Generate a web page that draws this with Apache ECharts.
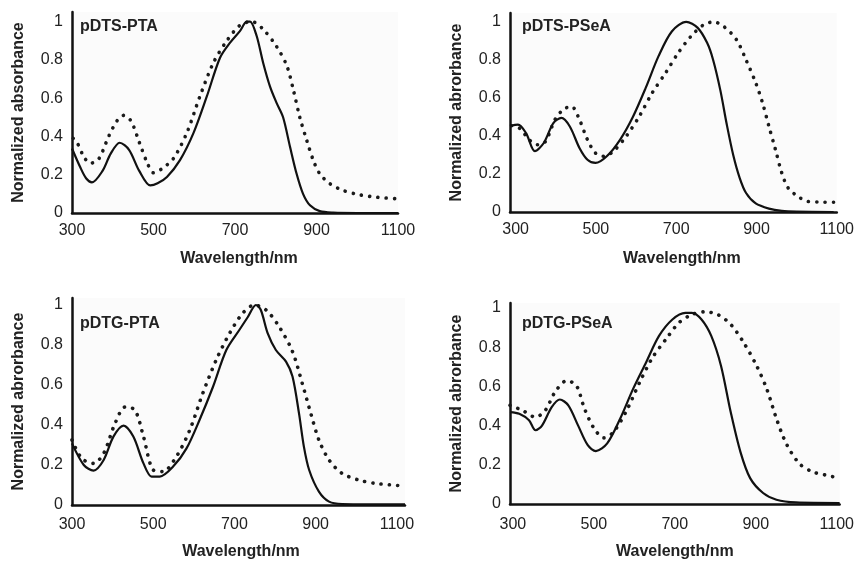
<!DOCTYPE html>
<html><head><meta charset="utf-8">
<script src="https://cdn.jsdelivr.net/npm/echarts@6/dist/echarts.min.js"></script>
<style>html,body{margin:0;padding:0;background:#fff}#c{width:857px;height:561px}</style>
</head><body><div id="c"></div>
<script>
const xTickLabels = [300, 500, 700, 900, 1100];
const yTickLabels = [0, 0.2, 0.4, 0.6, 0.8, 1];
const panelTitles = ['pDTS-PTA', 'pDTS-PSeA', 'pDTG-PTA', 'pDTG-PSeA'];
const yAxisNames = ['Normalized absorbance', 'Normalized abrorbance', 'Normalized abrorbance', 'Normalized abrorbance'];
const xAxisName = 'Wavelength/nm';

// Panel 1: pDTS-PTA
const dtsPtaSolidWl = [300,320,335,349,375,395,417,440,465,492,510,533,565,598,631,663,688,712,729,737,753,769,786,802,818,835,851,867,884,908,941,1000,1100];
const dtsPtaSolidAbs = [0.337,0.24,0.18,0.16,0.22,0.31,0.367,0.33,0.22,0.144,0.155,0.188,0.276,0.417,0.61,0.81,0.89,0.95,1.0,1.0,0.926,0.785,0.66,0.575,0.5,0.346,0.206,0.1,0.04,0.01,0.002,0,0];
const dtsPtaDotWl = [303,312,330,345,365,390,410,427,445,465,485,500,520,549,582,614,647,680,712,741,769,802,827,843,859,876,892,908,933,965,1006,1050,1100];
const dtsPtaDotAbs = [0.39,0.37,0.29,0.26,0.28,0.40,0.48,0.51,0.48,0.37,0.26,0.21,0.23,0.285,0.42,0.61,0.785,0.90,0.98,1.0,0.96,0.87,0.77,0.645,0.50,0.38,0.276,0.205,0.153,0.118,0.095,0.082,0.074];

// Panel 2: pDTS-PSeA
const dtsPseaSolidWl = [286,306,326,348,370,394,414,435,459,479,499,527,560,592,624,656,689,725,753,777,792,810,826,842,858,874,898,931,963,1000,1092];
const dtsPseaSolidAbs = [0.454,0.46,0.415,0.32,0.363,0.468,0.495,0.45,0.337,0.275,0.258,0.293,0.38,0.50,0.653,0.82,0.95,1.0,0.97,0.89,0.80,0.64,0.46,0.30,0.18,0.10,0.045,0.018,0.006,0.002,0];
const dtsPseaDotWl = [290,310,334,354,374,398,419,439,459,479,499,519,544,576,608,640,673,705,737,769,794,818,850,874,898,915,931,947,963,979,1003,1027,1060,1092];
const dtsPseaDotAbs = [0.454,0.44,0.38,0.354,0.37,0.486,0.54,0.556,0.486,0.38,0.31,0.293,0.32,0.40,0.503,0.626,0.73,0.837,0.925,0.986,1.0,0.977,0.907,0.80,0.68,0.574,0.45,0.33,0.205,0.126,0.082,0.056,0.052,0.051];

// Panel 3: pDTG-PTA
const dtgPtaSolidWl = [300,329,353,378,402,427,451,476,496,516,549,582,614,647,680,712,733,753,765,782,802,827,843,859,871,884,908,933,965,1120];
const dtgPtaSolidAbs = [0.308,0.20,0.172,0.225,0.342,0.397,0.342,0.208,0.142,0.142,0.192,0.283,0.425,0.59,0.775,0.875,0.94,1.0,0.975,0.858,0.775,0.717,0.642,0.458,0.292,0.175,0.067,0.017,0.005,0.003];
const dtgPtaDotWl = [300,324,353,378,406,431,455,476,500,524,557,590,622,655,688,720,749,778,810,843,867,888,908,933,965,1006,1047,1120];
const dtgPtaDotAbs = [0.325,0.233,0.208,0.258,0.408,0.49,0.475,0.342,0.175,0.167,0.242,0.375,0.558,0.725,0.858,0.958,1.0,0.975,0.892,0.767,0.608,0.458,0.325,0.225,0.158,0.125,0.108,0.095];

// Panel 4: pDTG-PSeA
const dtgPseaSolidWl = [293,316,340,356,372,396,416,437,461,485,505,533,565,597,629,661,694,726,742,766,790,814,838,862,886,918,951,999,1107];
const dtgPseaSolidAbs = [0.469,0.46,0.427,0.376,0.40,0.494,0.533,0.503,0.401,0.30,0.27,0.309,0.435,0.587,0.722,0.857,0.941,0.975,0.975,0.941,0.857,0.705,0.469,0.266,0.132,0.056,0.022,0.008,0.005];
const dtgPseaDotWl = [293,324,356,380,404,433,457,477,501,525,549,581,613,645,678,710,742,774,806,838,870,902,927,951,975,1007,1039,1071,1107];
const dtgPseaDotAbs = [0.503,0.477,0.443,0.477,0.57,0.629,0.604,0.486,0.384,0.337,0.368,0.477,0.62,0.747,0.84,0.924,0.966,0.98,0.966,0.916,0.823,0.705,0.587,0.435,0.309,0.207,0.165,0.148,0.132];

const solidSets = [[dtsPtaSolidWl, dtsPtaSolidAbs],[dtsPseaSolidWl, dtsPseaSolidAbs],[dtgPtaSolidWl, dtgPtaSolidAbs],[dtgPseaSolidWl, dtgPseaSolidAbs]];
const dotSets = [[dtsPtaDotWl, dtsPtaDotAbs],[dtsPseaDotWl, dtsPseaDotAbs],[dtgPtaDotWl, dtgPtaDotAbs],[dtgPseaDotWl, dtgPseaDotAbs]];

// layout
const grids = [
  {left:72, top:12, width:326, height:201, xmin:300, xmax:1100, ymax:1.05, tl:80, tt:19, ng:38, np:8, lm:10},
  {left:510, top:13, width:337, height:199, xmin:286, xmax:1100, ymax:1.047, tl:522, tt:19, ng:39, np:17, lm:10},
  {left:72, top:298, width:333, height:207, xmin:300, xmax:1120, ymax:1.035, tl:80, tt:316, ng:39, np:5, lm:12},
  {left:510, top:303, width:338, height:203, xmin:293, xmax:1107, ymax:1.025, tl:522, tt:316, ng:40, np:0, lm:13}
];
const FONT = '"Liberation Sans", Arial, Helvetica, sans-serif';
const zip = (a, b) => a.map((v, i) => [v, b[i]]);

const option = {
  animation: false,
  backgroundColor: '#ffffff',
  title: grids.map((g, i) => ({
    text: panelTitles[i], left: g.tl, top: g.tt, padding: 0,
    textStyle: {fontFamily: FONT, fontSize: 16, fontWeight: 'bold', color: '#222'}
  })),
  grid: grids.map(g => ({left: g.left, top: g.top, width: g.width, height: g.height,
    show: true, backgroundColor: '#fbfbfb', borderWidth: 0})),
  xAxis: grids.map((g, i) => ({
    type: 'value', gridIndex: i, min: g.xmin, max: g.xmax,
    name: xAxisName, nameLocation: 'middle', nameGap: g.ng,
    nameTextStyle: {fontFamily: FONT, fontSize: 16, fontWeight: 'bold', color: '#222', padding: [0, 0, 0, g.np]},
    axisLine: {show: true, onZero: false, lineStyle: {color: '#111', width: 2.5}},
    axisTick: {show: false}, splitLine: {show: false},
    axisLabel: {customValues: xTickLabels, margin: g.lm, fontFamily: FONT, fontSize: 16, color: '#222',
      formatter: v => String(Math.round(v))}
  })),
  yAxis: grids.map((g, i) => ({
    type: 'value', gridIndex: i, min: 0, max: g.ymax,
    name: yAxisNames[i], nameLocation: 'middle', nameGap: 45, nameRotate: 90,
    nameTextStyle: {fontFamily: FONT, fontSize: 16, fontWeight: 'bold', color: '#222'},
    axisLine: {show: true, onZero: false, lineStyle: {color: '#111', width: 2.5}},
    axisTick: {show: false}, splitLine: {show: false},
    axisLabel: {customValues: yTickLabels, margin: 9, fontFamily: FONT, fontSize: 16, color: '#222',
      formatter: v => (v === 0 ? '0' : (Math.abs(v - 1) < 1e-9 ? '1' : v.toFixed(1)))}
  })),
  series: []
};
for (let i = 0; i < 4; i++) {
  option.series.push({
    type: 'line', xAxisIndex: i, yAxisIndex: i, data: zip(dotSets[i][0], dotSets[i][1]),
    smooth: 0.3, showSymbol: false, z: 3,
    lineStyle: {color: '#1a1a1a', width: 3.6, type: [0.1, 8.2], cap: 'round'}
  });
  option.series.push({
    type: 'line', xAxisIndex: i, yAxisIndex: i, data: zip(solidSets[i][0], solidSets[i][1]),
    smooth: 0.3, showSymbol: false, z: 4,
    lineStyle: {color: '#111', width: 2.2}
  });
}
const chart = echarts.init(document.getElementById('c'), null, {renderer: 'canvas'});
chart.setOption(option);
</script></body></html>
